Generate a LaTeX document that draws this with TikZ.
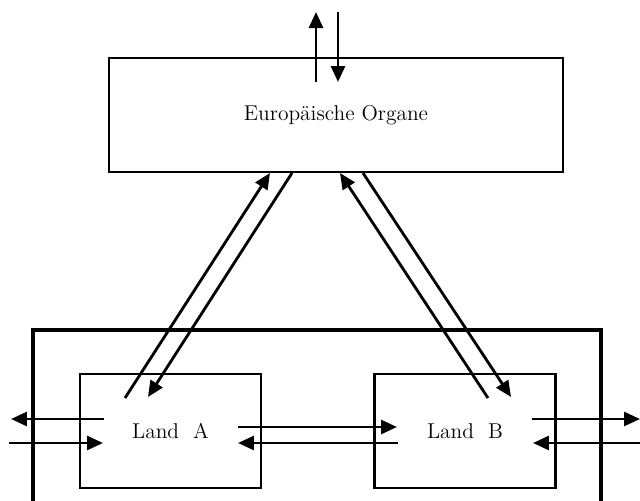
\documentclass[tikz,border=0pt]{standalone}
\usetikzlibrary{arrows.meta}

\tikzset{
    organbox/.style={draw, line width=1.3pt, minimum width=9.08cm, minimum height=2.28cm},
    landbox/.style={draw, line width=1.3pt, minimum width=3.62cm, minimum height=2.28cm},
    flow/.style={line width=1.6pt, -{Triangle[length=0.32cm, width=0.28cm]}}
}

\begin{document}
\begin{tikzpicture}[x=0.02cm, y=-0.02cm, font=\fontsize{12.2}{14}\selectfont]
    \useasboundingbox (0,0) rectangle (640,501);
    \draw[line width=2.8pt] (33,520) -- (33,330) -- (601,330) -- (601,520);
    \node[organbox] (organe) at (336,115) {Europäische Organe};
    \node[landbox] (landA) at (170.5,431) {Land\ \ A};
    \node[landbox] (landB) at (465,431) {Land\ \ B};
    % top
    \coordinate (upS) at (316,82);   \coordinate (upE) at (316,12);
    \coordinate (dnS) at (338,12);   \coordinate (dnE) at (338,82);
    \draw[flow] (upS) to (upE);
    \draw[flow] (dnS) to (dnE);
    % diagonals
    \coordinate (aUpS) at (125,398); \coordinate (aUpE) at (270,173);
    \coordinate (aDnS) at (292,173); \coordinate (aDnE) at (148,397);
    \coordinate (bUpS) at (488,398); \coordinate (bUpE) at (340,173);
    \coordinate (bDnS) at (363,173); \coordinate (bDnE) at (511,397);
    \draw[flow] (aUpS) to (aUpE);
    \draw[flow] (aDnS) to (aDnE);
    \draw[flow] (bUpS) to (bUpE);
    \draw[flow] (bDnS) to (bDnE);
    % left
    \coordinate (lOutS) at (104,419); \coordinate (lOutE) at (11,419);
    \coordinate (lInS) at (9,443);    \coordinate (lInE) at (103,443);
    \draw[flow] (lOutS) to (lOutE);
    \draw[flow] (lInS) to (lInE);
    % middle
    \coordinate (abS) at (238,427); \coordinate (abE) at (397,427);
    \coordinate (baS) at (398,443); \coordinate (baE) at (238,443);
    \draw[flow] (abS) to (abE);
    \draw[flow] (baS) to (baE);
    % right
    \coordinate (rOutS) at (532,419); \coordinate (rOutE) at (640,419);
    \coordinate (rInS) at (645,443);  \coordinate (rInE) at (533,443);
    \draw[flow] (rOutS) to (rOutE);
    \draw[flow] (rInS) to (rInE);
\end{tikzpicture}
\end{document}
